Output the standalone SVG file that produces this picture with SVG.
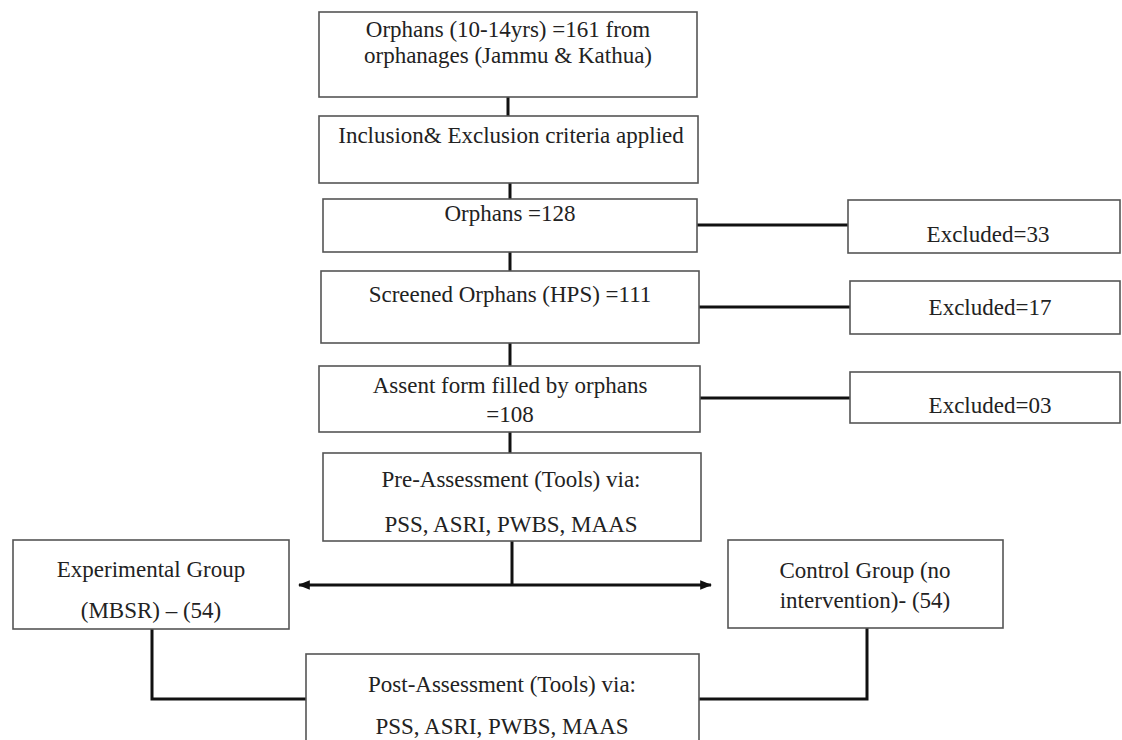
<svg xmlns="http://www.w3.org/2000/svg" width="1122" height="740" viewBox="0 0 1122 740">
<style>
.box{fill:#fff;stroke:#555;stroke-width:1.6}
.t{font-family:"Liberation Serif","Times New Roman",serif;font-size:23px;fill:#222;text-anchor:middle}
.c{fill:none;stroke:#111;stroke-width:3}
</style>
<defs>
<marker id="ah" viewBox="0 0 10 10" refX="9" refY="5" markerWidth="4" markerHeight="4" orient="auto-start-reverse" markerUnits="strokeWidth">
<path d="M0,1 L10,5 L0,9 z" fill="#111"/>
</marker>
</defs>
<rect width="1122" height="740" fill="#fff"/>
<g id="connectors">
<line class="c" x1="508" y1="97" x2="508" y2="116"/>
<line class="c" x1="510" y1="183" x2="510" y2="199"/>
<line class="c" x1="510" y1="252" x2="510" y2="271"/>
<line class="c" x1="510" y1="343" x2="510" y2="366"/>
<line class="c" x1="510" y1="432" x2="510" y2="453"/>
<line class="c" x1="697" y1="225" x2="848" y2="225"/>
<line class="c" x1="699" y1="307" x2="850" y2="307"/>
<line class="c" x1="700" y1="398" x2="850" y2="398"/>
<line class="c" x1="512" y1="541" x2="512" y2="585"/>
<line class="c" x1="299" y1="585" x2="711" y2="585" marker-start="url(#ah)" marker-end="url(#ah)"/>
<polyline class="c" points="152,629 152,699 306,699"/>
<polyline class="c" points="867,628 867,699 699,699"/>
</g>
<g id="n1"><rect class="box" x="319" y="12" width="378" height="85"/>
<text class="t" x="508" y="37">Orphans (10-14yrs) =161  from</text>
<text class="t" x="508" y="63">orphanages (Jammu &amp; Kathua)</text></g>
<g id="n2"><rect class="box" x="319" y="116" width="379" height="67"/>
<text class="t" x="511" y="143">Inclusion&amp; Exclusion criteria applied</text></g>
<g id="n3"><rect class="box" x="323" y="199" width="374" height="53"/>
<text class="t" x="510" y="221">Orphans =128</text></g>
<g id="n4"><rect class="box" x="321" y="271" width="378" height="72"/>
<text class="t" x="510" y="302">Screened Orphans (HPS) =111</text></g>
<g id="n5"><rect class="box" x="319" y="366" width="381" height="66"/>
<text class="t" x="510" y="393">Assent form filled by orphans</text>
<text class="t" x="510" y="422">=108</text></g>
<g id="n6"><rect class="box" x="323" y="453" width="378" height="88"/>
<text class="t" x="511" y="487">Pre-Assessment (Tools) via:</text>
<text class="t" x="511" y="532">PSS, ASRI, PWBS, MAAS</text></g>
<g id="ex33"><rect class="box" x="848" y="200" width="272" height="53"/>
<text class="t" x="988" y="242">Excluded=33</text></g>
<g id="ex17"><rect class="box" x="850" y="281" width="270" height="53"/>
<text class="t" x="990" y="315">Excluded=17</text></g>
<g id="ex03"><rect class="box" x="850" y="372" width="270" height="51"/>
<text class="t" x="990" y="413">Excluded=03</text></g>
<g id="exp"><rect class="box" x="13" y="540" width="276" height="89"/>
<text class="t" x="151" y="577">Experimental Group</text>
<text class="t" x="151" y="618">(MBSR) – (54)</text></g>
<g id="ctrl"><rect class="box" x="728" y="540" width="275" height="88"/>
<text class="t" x="865" y="578">Control Group (no</text>
<text class="t" x="865" y="608">intervention)- (54)</text></g>
<g id="post"><rect class="box" x="306" y="654" width="393" height="95"/>
<text class="t" x="502" y="692">Post-Assessment (Tools) via:</text>
<text class="t" x="502" y="734">PSS, ASRI, PWBS, MAAS</text></g>
</svg>
